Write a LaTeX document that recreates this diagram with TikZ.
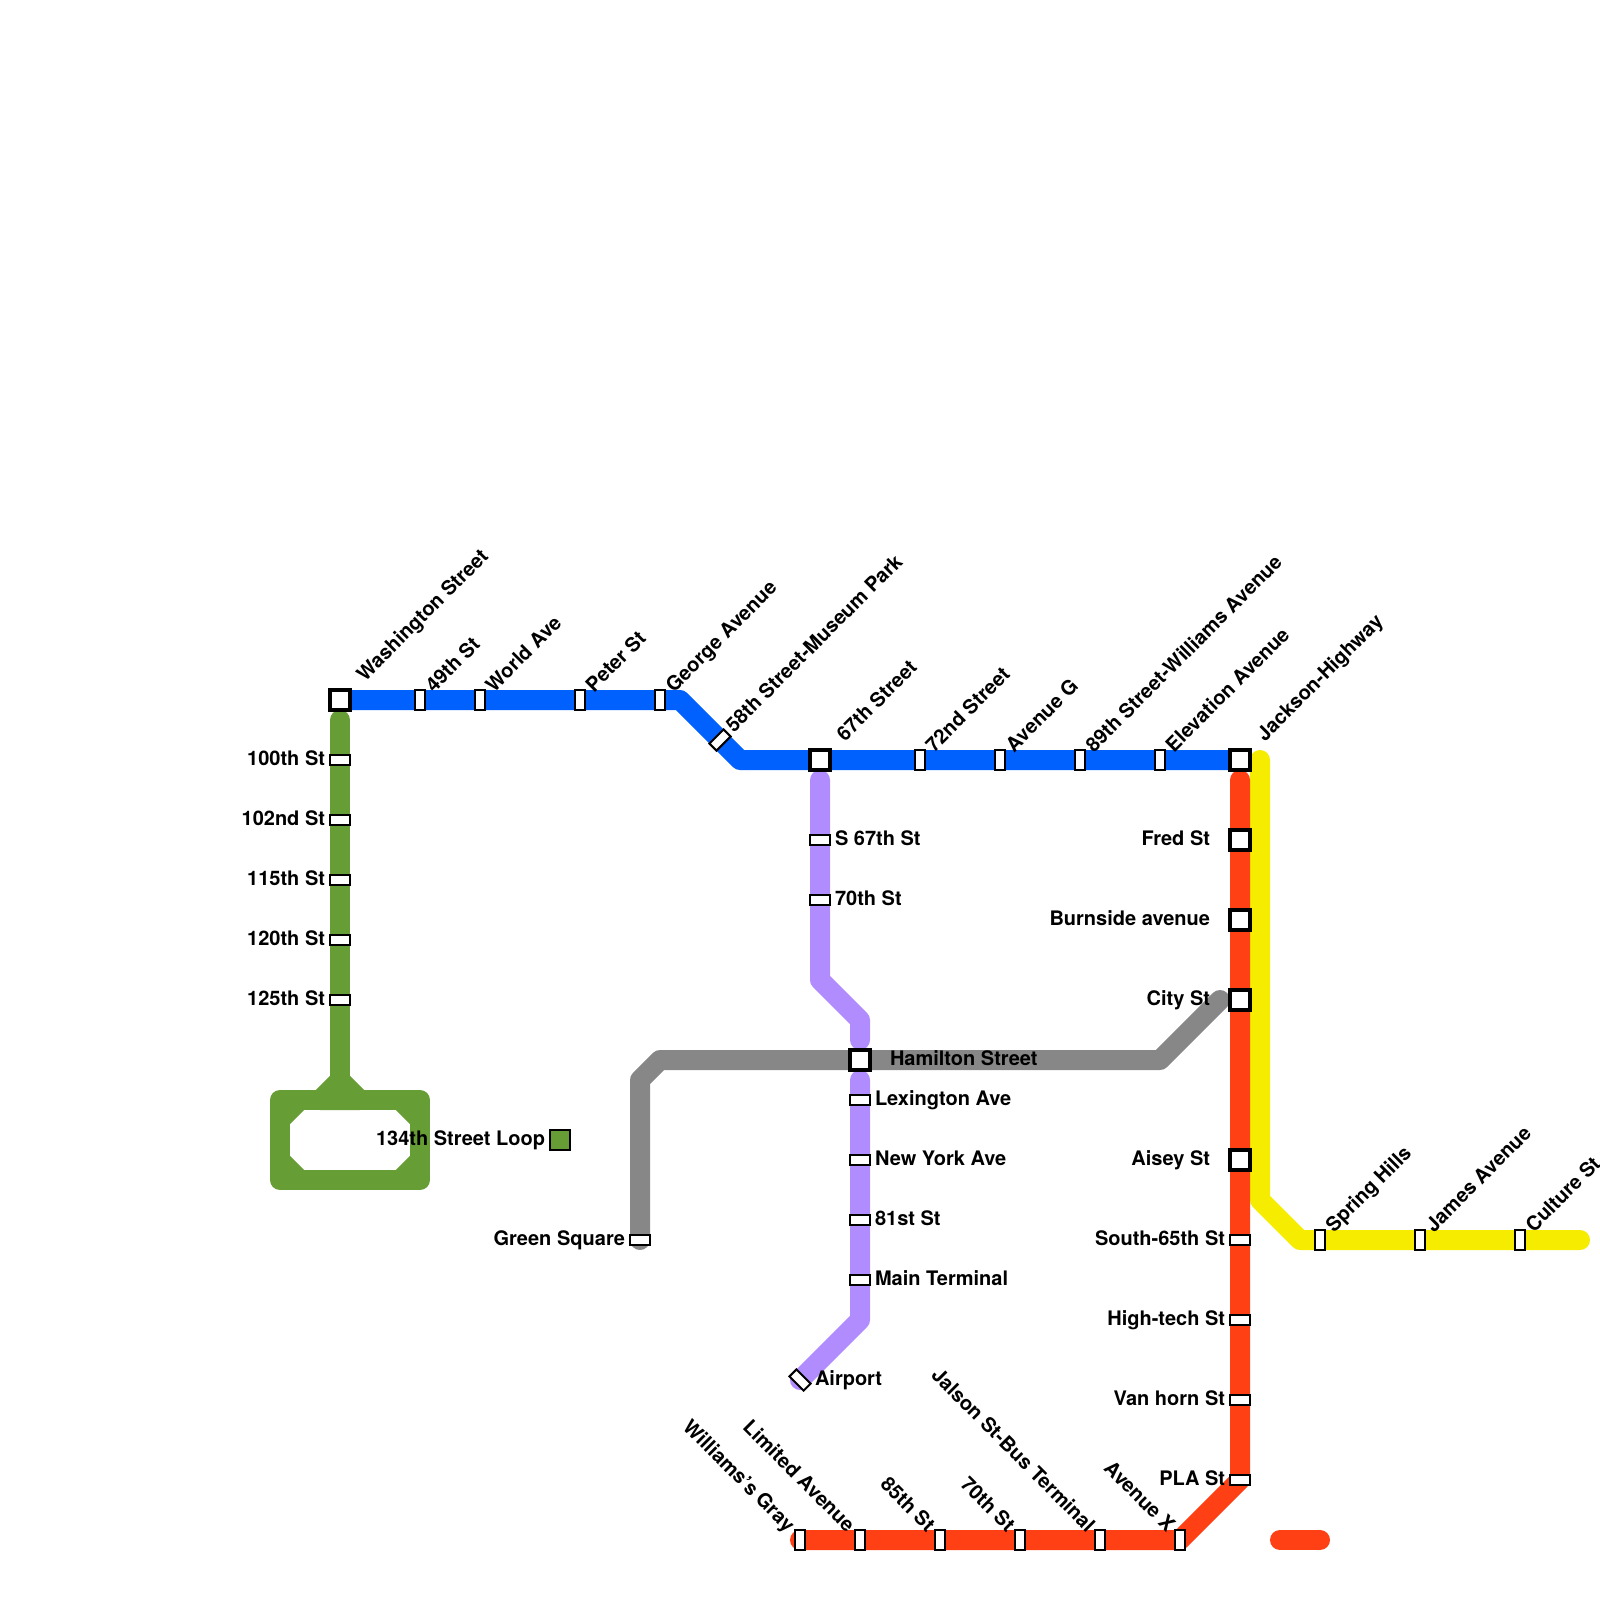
\documentclass[tikz,border=0pt]{standalone}
\usepackage{fontspec}
\setmainfont{TeX Gyre Heros}
\usetikzlibrary{backgrounds}
\definecolor{cblue}{HTML}{0061FE}
\definecolor{cgreen}{HTML}{669D34}
\definecolor{cpurple}{HTML}{B18CFE}
\definecolor{cred}{HTML}{FF4015}
\definecolor{cyellow}{HTML}{F5EC00}
\definecolor{cgray}{HTML}{878787}
\tikzset{
  railway/.style={line width=10pt,line cap=round,line join=round},
  tallstop/.style={draw=black,fill=white,line width=1pt,minimum width=5pt,minimum height=10pt,inner sep=0pt,outer sep=0pt},
  widestop/.style={draw=black,fill=white,line width=1pt,minimum width=10pt,minimum height=5pt,inner sep=0pt,outer sep=0pt},
  hubstop/.style={draw=black,fill=white,line width=2pt,minimum size=10pt,inner sep=0pt,outer sep=0pt},
  loopstop/.style={draw=black,fill=cgreen,line width=1pt,minimum size=10pt,inner sep=0pt,outer sep=0pt},
  lab/.style={font=\bfseries\fontsize{10}{11}\selectfont,text=black,inner sep=0pt,outer sep=0pt},
  labne/.style={lab,xshift=7pt,yshift=3.5pt,rotate=45,anchor=base west},
  labnehub/.style={lab,xshift=12.5pt,yshift=9pt,rotate=45,anchor=base west},
  labnw/.style={lab,xshift=-6.75pt,yshift=3.5pt,rotate=-45,anchor=base east},
  labl/.style={lab,xshift=-7.5pt,yshift=-2.5pt,anchor=base east},
  lablhub/.style={lab,xshift=-15pt,yshift=-2.5pt,anchor=base east},
  labr/.style={lab,xshift=7.5pt,yshift=-2.5pt,anchor=base west},
}
\begin{document}
\begin{tikzpicture}[x=0.5pt,y=-0.5pt]
\useasboundingbox (0,0) rectangle (1600,1600);
\clip (0,0) rectangle (1600,1600);
% Blue line stations
\node[hubstop] (wash) at (340,700) {};
\node[tallstop] (s49) at (420,700) {};
\node[tallstop] (world) at (480,700) {};
\node[tallstop] (peter) at (580,700) {};
\node[tallstop] (george) at (660,700) {};
\node[tallstop,rotate=-45] (s58) at (720,740) {};
\node[hubstop] (s67) at (820,760) {};
\node[tallstop] (s72) at (920,760) {};
\node[tallstop] (aveg) at (1000,760) {};
\node[tallstop] (s89) at (1080,760) {};
\node[tallstop] (elev) at (1160,760) {};
\node[hubstop] (jack) at (1240,760) {};
% Green line stations
\node[widestop] (s100) at (340,760) {};
\node[widestop] (s102) at (340,820) {};
\node[widestop] (s115) at (340,880) {};
\node[widestop] (s120) at (340,940) {};
\node[widestop] (s125) at (340,1000) {};
\node[loopstop] (loop) at (560,1140) {};
% Purple line stations
\node[widestop] (ps67) at (820,840) {};
\node[widestop] (p70) at (820,900) {};
\node[hubstop] (ham) at (860,1060) {};
\node[widestop] (lex) at (860,1100) {};
\node[widestop] (ny) at (860,1160) {};
\node[widestop] (s81) at (860,1220) {};
\node[widestop] (mainT) at (860,1280) {};
\node[tallstop,rotate=45] (air) at (800,1380) {};
% Gray
\node[widestop] (gsq) at (640,1240) {};
% Red
\node[hubstop] (fred) at (1240,840) {};
\node[hubstop] (burn) at (1240,920) {};
\node[hubstop] (city) at (1240,1000) {};
\node[hubstop] (aisey) at (1240,1160) {};
\node[widestop] (south) at (1240,1240) {};
\node[widestop] (high) at (1240,1320) {};
\node[widestop] (van) at (1240,1400) {};
\node[widestop] (pla) at (1240,1480) {};
\node[tallstop] (avex) at (1180,1540) {};
\node[tallstop] (jals) at (1100,1540) {};
\node[tallstop] (r70) at (1020,1540) {};
\node[tallstop] (r85) at (940,1540) {};
\node[tallstop] (lim) at (860,1540) {};
\node[tallstop] (wil) at (800,1540) {};
% Yellow
\node[tallstop] (spring) at (1320,1240) {};
\node[tallstop] (james) at (1420,1240) {};
\node[tallstop] (culture) at (1520,1240) {};
% Free ends and bends
\coordinate (gtop) at (340,720);
\coordinate (gfork) at (340,1080);
\coordinate (ptop) at (820,780);
\coordinate (pmidb) at (860,1040);
\coordinate (pmidt) at (860,1080);
\coordinate (rtop) at (1240,780);
\coordinate (ytop) at (1260,760);
\coordinate (yend) at (1580,1240);
\coordinate (gryend) at (1220,1000);
\coordinate (stubA) at (1280,1540);
\coordinate (stubB) at (1320,1540);
% Lines
\begin{pgfonlayer}{background}
\draw[railway,cgray] (gsq.center) -- (640,1080) -- (660,1060) -- (1160,1060) -- (gryend);
\draw[railway,cyellow] (ytop) -- (1260,1200) -- (1300,1240) -- (yend);
\draw[railway,cred] (rtop) -- (pla.center) -- (avex.center) -- (wil.center);
\draw[railway,cred] (stubA) -- (stubB);
\draw[railway,cpurple] (ptop) -- (820,980) -- (860,1020) -- (pmidb);
\draw[railway,cpurple] (pmidt) -- (860,1320) -- (air.center);
\draw[railway,cblue] (wash.center) -- (680,700) -- (740,760) -- (jack.center);
\draw[railway,cgreen] (gtop) -- (gfork);
\draw[railway,cgreen] (gfork) -- (320,1100) -- (360,1100) -- (gfork);
\draw[railway,cgreen] (280,1100) rectangle (420,1180);
\draw[railway,cgreen,line cap=butt] (280,1120) -- (300,1100) (400,1100) -- (420,1120) (420,1160) -- (400,1180) (300,1180) -- (280,1160);
\end{pgfonlayer}
% Labels
\node[labnehub] (lwash) at (wash) {Washington Street};
\node[labne] (l49) at (s49) {49th St};
\node[labne] (lworld) at (world) {World Ave};
\node[labne] (lpeter) at (peter) {Peter St};
\node[labne] (lgeorge) at (george) {George Avenue};
\node[labne] (l58) at (s58) {58th Street-Museum Park};
\node[labnehub] (l67) at (s67) {67th Street};
\node[labne] (l72) at (s72) {72nd Street};
\node[labne] (laveg) at (aveg) {Avenue G};
\node[labne] (l89) at (s89) {89th Street-Williams Avenue};
\node[labne] (lelev) at (elev) {Elevation Avenue};
\node[labnehub] (ljack) at (jack) {Jackson-Highway};
\node[labl] (l100) at (s100) {100th St};
\node[labl] (l102) at (s102) {102nd St};
\node[labl] (l115) at (s115) {115th St};
\node[labl] (l120) at (s120) {120th St};
\node[labl] (l125) at (s125) {125th St};
\node[labl] (lloop) at (loop) {134th Street Loop};
\node[labr] (lps67) at (ps67) {S 67th St};
\node[labr] (lp70) at (p70) {70th St};
\node[lab,xshift=15pt,yshift=-2.5pt,anchor=base west] (lham) at (ham) {Hamilton Street};
\node[labr] (llex) at (lex) {Lexington Ave};
\node[labr] (lny) at (ny) {New York Ave};
\node[labr] (l81) at (s81) {81st St};
\node[labr] (lmain) at (mainT) {Main Terminal};
\node[labr] (lair) at (air) {Airport};
\node[labl] (lgsq) at (gsq) {Green Square};
\node[lablhub] (lfred) at (fred) {Fred St};
\node[lablhub] (lburn) at (burn) {Burnside avenue};
\node[lablhub] (lcity) at (city) {City St};
\node[lablhub] (laisey) at (aisey) {Aisey St};
\node[labl] (lsouth) at (south) {South-65th St};
\node[labl] (lhigh) at (high) {High-tech St};
\node[labl] (lvan) at (van) {Van horn St};
\node[labl] (lpla) at (pla) {PLA St};
\node[labnw] (lavex) at (avex) {Avenue X};
\node[labnw] (ljals) at (jals) {Jalson St-Bus Terminal};
\node[labnw] (lr70) at (r70) {70th St};
\node[labnw] (lr85) at (r85) {85th St};
\node[labnw] (llim) at (lim) {Limited Avenue};
\node[labnw] (lwil) at (wil) {Williams's Gray};
\node[labne] (lspring) at (spring) {Spring Hills};
\node[labne] (ljames) at (james) {James Avenue};
\node[labne] (lculture) at (culture) {Culture St};
\end{tikzpicture}
\end{document}
